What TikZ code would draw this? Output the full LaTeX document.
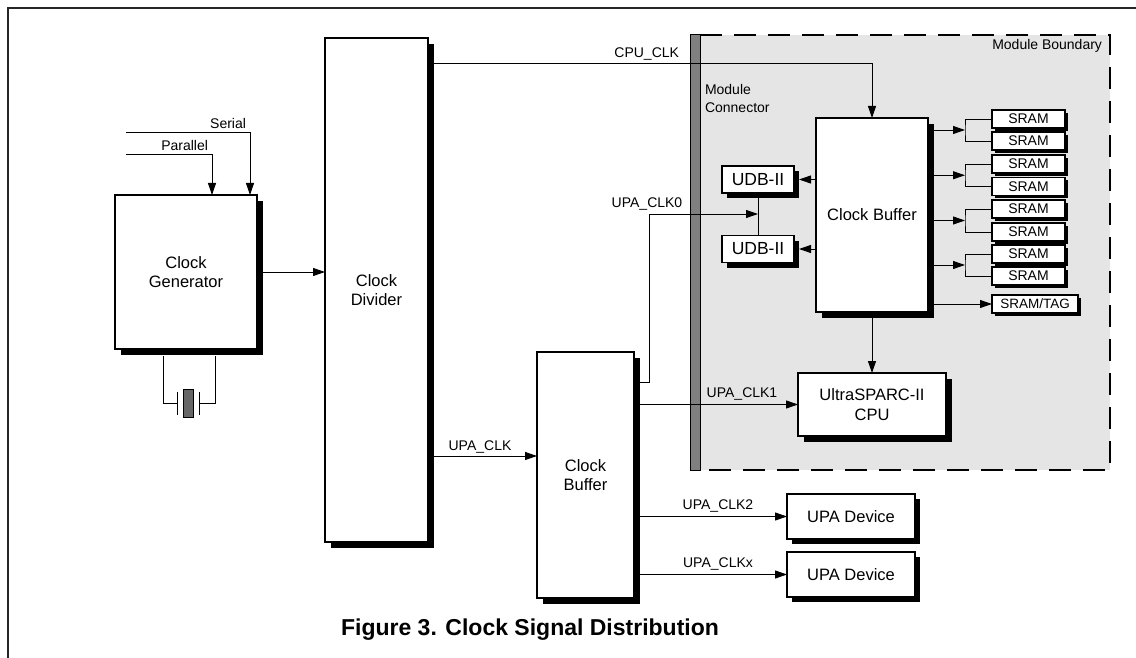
\documentclass[tikz,border=0pt]{standalone}
\usepackage{fontspec}
\setmainfont{Liberation Sans}
\usetikzlibrary{arrows.meta,shadows,calc}
\begin{document}
\begin{tikzpicture}[x=1pt,y=-1pt,
  every node/.style={inner sep=0pt, outer sep=0pt},
  blk/.style={draw=black, line width=1.1pt, fill=white, align=center, font=\fontsize{16.5}{19.5}\selectfont},
  shd/.style={drop shadow={shadow xshift=#1, shadow yshift=-#1, fill=black, opacity=1}},
  wire/.style={line width=0.9pt},
  arr/.style={wire, -{Triangle[length=12pt,width=8pt]}},
  lbl/.style={font=\fontsize{14}{18}\selectfont},
  sram/.style={blk, shd=3pt, minimum width=73pt, minimum height=18pt, font=\fontsize{14}{16}\selectfont},
  udb/.style={blk, shd=5pt, minimum width=72pt, minimum height=27pt, font=\fontsize{17.5}{20}\selectfont},
  upa/.style={blk, shd=5pt, minimum width=128pt, minimum height=45pt},
]
\useasboundingbox (0,0) rectangle (1136,658);
% outer frame
\draw[line width=2pt, draw=black!85] (8,658) -- (8,8) -- (1136,8);

% module area
\fill[black!10] (695,35) rectangle (1110,470);
\draw[line width=1.3pt, dash pattern=on 22pt off 12pt] (700,35) -- (1110,35) -- (1110,470) -- (700,470);
\node[draw=black, line width=0.6pt, fill=black!50, minimum width=10pt, minimum height=436pt] (mc) at (695,252.5) {};
\node[lbl, anchor=north east] (mb) at (1102,39) {Module Boundary};
\node[lbl, anchor=north west, align=left] (mcl) at (705,84) {Module\\Connector};

% blocks
\node[blk, shd=6pt, minimum width=142pt, minimum height=154pt] (gen) at (186,272) {Clock\\Generator};
\node[blk, shd=6pt, minimum width=103pt, minimum height=504pt] (div) at (376.5,290) {Clock\\Divider};
\node[blk, shd=6pt, minimum width=97pt, minimum height=246pt] (buf2) at (585.5,475) {Clock\\Buffer};
\node[blk, shd=6pt, minimum width=112pt, minimum height=194pt] (cbuf) at (872,215) {Clock Buffer};
\node[udb] (udb1) at (758,179.5) {UDB-II};
\node[udb] (udb2) at (758,249) {UDB-II};
\node[blk, shd=6pt, minimum width=148pt, minimum height=63pt] (cpu) at (872,404.5) {UltraSPARC-II\\CPU};
\foreach \i/\yy in {1/119,2/141,3/164,4/186.5,5/209,6/232,7/254,8/276}
  \node[sram] (s\i) at (1028.5,\yy) {SRAM};
\node[sram, minimum width=86pt, anchor=west, font=\fontsize{13.5}{15}\selectfont] (stag) at (992,304) {SRAM/TAG};
\node[upa] (upa1) at (851,516.5) {UPA Device};
\node[upa] (upa2) at (851,574.5) {UPA Device};

% inputs to generator
\coordinate (ser) at (126,132);
\coordinate (par) at (126,154);
\draw[arr] (ser) -| ([xshift=135pt]gen.north west);
\draw[arr] (par) -| ([xshift=97pt]gen.north west);
\node[lbl, anchor=south east] (serl) at (246,129) {Serial};
\node[lbl, anchor=south east] (parl) at (208,151) {Parallel};

% crystal
\draw[wire] (163,356) |- (177,403);
\draw[wire] (215,356) |- (199,403);
\draw[wire] (177,392) -- (177,415);
\draw[wire] (199,392) -- (199,415);
\draw[line width=0.8pt, fill=black!60] (183,389) rectangle (193,417);

% generator -> divider
\draw[arr] (gen.east) -- (gen.east -| div.west);

% CPU_CLK
\draw[arr] ([yshift=-25pt]div.north east) -| (cbuf.north);
\node[lbl, anchor=south east] (cpul) at (679,60) {CPU\_CLK};

% UPA_CLK
\coordinate (inupa) at ([yshift=19pt]buf2.west);
\draw[arr] (inupa -| div.east) -- (inupa);
\node[lbl, anchor=south] (upal) at (480,453) {UPA\_CLK};

% UPA_CLK0
\coordinate (udbj) at (758,214);
\draw[wire] (udb1.south) -- (udb2.north);
\draw[arr] ([yshift=93pt]buf2.east) -- ++(15,0) |- (udbj);
\node[lbl, anchor=south] (c0l) at (647,210) {UPA\_CLK0};

% UPA_CLK1
\draw[arr] (cpu.west -| buf2.east) -- (cpu.west);
\node[lbl, anchor=south] (c1l) at (742,400) {UPA\_CLK1};

% UPA_CLK2 / x
\draw[arr] (upa1.west -| buf2.east) -- (upa1.west);
\node[lbl, anchor=south] (c2l) at (718,512) {UPA\_CLK2};
\draw[arr] (upa2.west -| buf2.east) -- (upa2.west);
\node[lbl, anchor=south] (cxl) at (718,570) {UPA\_CLKx};

% clock buffer -> CPU
\draw[arr] (cbuf.south) -- (cpu.north);

% clock buffer -> UDB
\draw[arr] (udb1.east -| cbuf.west) -- ([xshift=5pt]udb1.east);
\draw[arr] (udb2.east -| cbuf.west) -- ([xshift=5pt]udb2.east);

% clock buffer -> SRAM pairs
\foreach \a/\b in {1/2,3/4,5/6,7/8}{
  \coordinate (br\a) at ($(s\a.west)!0.5!(s\b.west)+(-27,0)$);
  \draw[arr] (br\a -| cbuf.east) -- (br\a);
  \draw[wire] (s\a.west) -| (br\a) |- (s\b.west);
}
\draw[arr] (stag.west -| cbuf.east) -- (stag.west);

% caption
\node[font=\bfseries\fontsize{23}{26}\selectfont] (cap) at (530,630) {Figure 3. Clock Signal Distribution};
\end{tikzpicture}
\end{document}
